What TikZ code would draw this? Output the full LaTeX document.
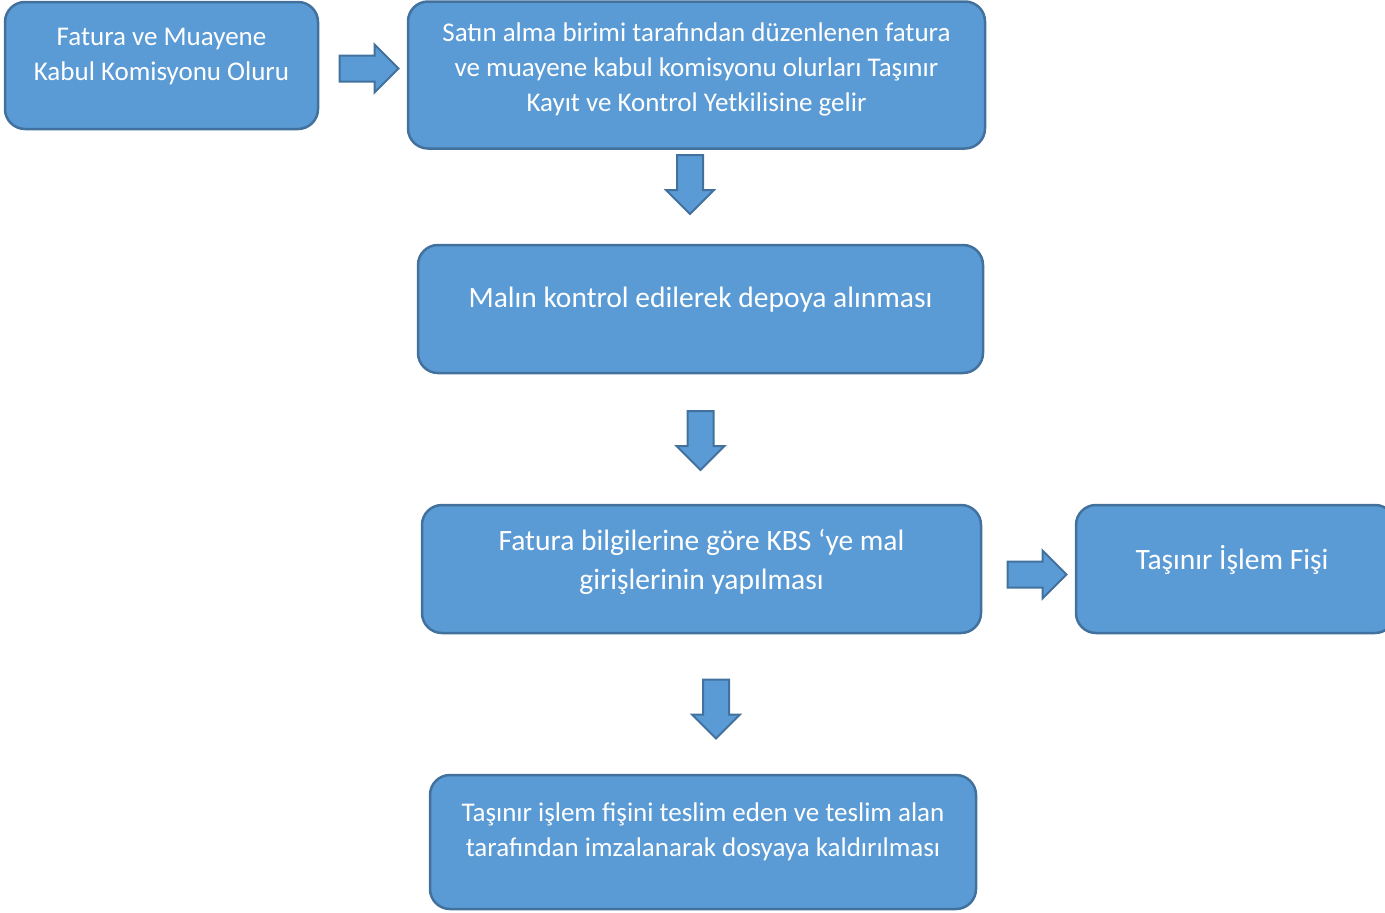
\documentclass[tikz,border=0pt]{standalone}
\usepackage{fontspec}
\setmainfont{Carlito}
\usepackage{tikz}
\usetikzlibrary{shapes,arrows}
\usetikzlibrary{positioning}
\definecolor{boxfill}{HTML}{5B9BD5}
\definecolor{boxline}{HTML}{41719C}
\tikzstyle{box} = [draw=boxline, fill=boxfill, line width=2.5pt, rounded corners=20pt, inner sep=0pt]
\tikzstyle{boxtext} = [text=white, align=center, inner sep=0pt]
\tikzstyle{blockarrow} = [single arrow, draw=boxline, fill=boxfill, line width=2pt, inner sep=12pt, minimum width=46pt, single arrow head extend=11pt, minimum height=59pt]

\begin{document}
\begin{tikzpicture}[x=1pt, y=-1pt]
  \clip (0,0) rectangle (1385,913);
  \node [box, name=fatura, minimum width=313pt, minimum height=127pt] at (161.5,65.5) {};
  \node [box, name=satin, minimum width=577pt, minimum height=147pt] at (696.5,75) {};
  \node [box, name=malin, minimum width=565pt, minimum height=128pt] at (700.5,309) {};
  \node [box, name=kbs, minimum width=559pt, minimum height=128pt] at (701.5,569) {};
  \node [box, name=fis, minimum width=319pt, minimum height=128pt] at (1235.5,569) {};
  \node [box, name=imza, minimum width=546pt, minimum height=134pt] at (703,842) {};

  \node [boxtext, name=faturatext, font=\fontsize{27}{35}\selectfont] at (161.5,56.5) {Fatura ve Muayene\\Kabul Komisyonu Oluru};
  \node [boxtext, name=satintext, font=\fontsize{27}{35}\selectfont] at (696.5,69.5) {Satın alma birimi tarafından düzenlenen fatura\\ve muayene kabul komisyonu olurları Taşınır\\Kayıt ve Kontrol Yetkilisine gelir};
  \node [boxtext, name=malintext, font=\fontsize{29.5}{39}\selectfont] at (700.5,299.5) {Malın kontrol edilerek depoya alınması};
  \node [boxtext, name=kbstext, font=\fontsize{29.5}{39}\selectfont] at (701.5,561.5) {Fatura bilgilerine göre KBS ‘ye mal\\girişlerinin yapılması};
  \node [boxtext, name=fistext, font=\fontsize{29.5}{39}\selectfont] at (1232,559.5) {Taşınır İşlem Fişi};
  \node [boxtext, name=imzatext, font=\fontsize{27}{35}\selectfont] at (703,832) {Taşınır işlem fişini teslim eden ve teslim alan\\tarafından imzalanarak dosyaya kaldırılması};

  \node [blockarrow, name=ok1] at (362.5,68.5) {};
  \node [blockarrow, name=ok2, shape border rotate=270] at (690,178) {};
  \node [blockarrow, name=ok3, shape border rotate=270] at (700.5,434) {};
  \node [blockarrow, name=ok4] at (1030.5,574.5) {};
  \node [blockarrow, name=ok5, shape border rotate=270] at (716,702.5) {};
\end{tikzpicture}
\end{document}
